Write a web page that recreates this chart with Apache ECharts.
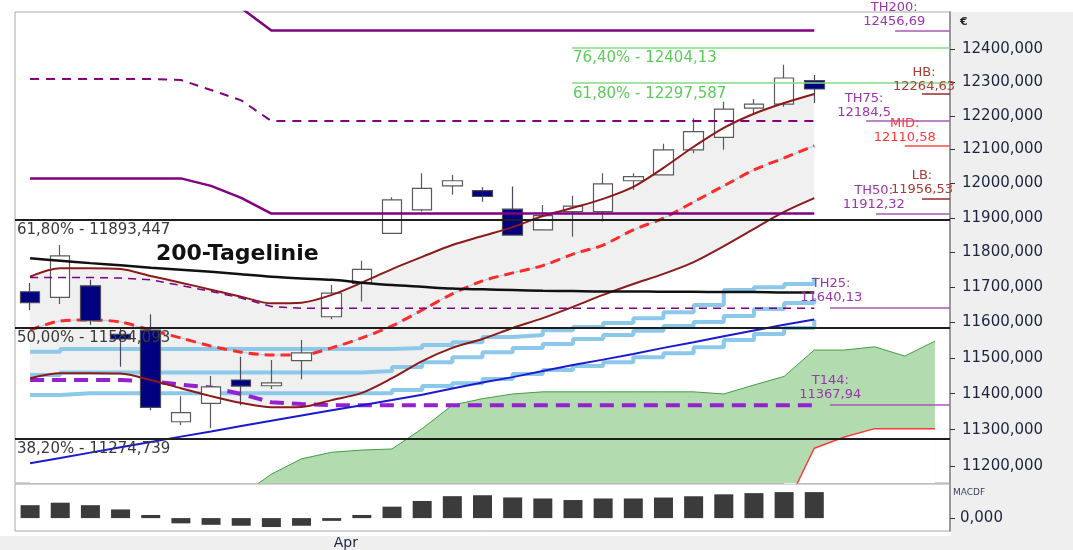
<!DOCTYPE html>
<html>
<head>
<meta charset="utf-8">
<title>Chart</title>
<script src="https://cdn.jsdelivr.net/npm/echarts@6/dist/echarts.min.js"></script>
<style>
  html, body { margin: 0; padding: 0; background: #fff; }
  #chart { width: 1073px; height: 550px; }
</style>
</head>
<body>
<div id="chart"></div>
<script>
// trading days (27 real + 4 projected for the cloud)
const days = ['18.03', '19.03', '20.03', '21.03', '24.03', '25.03', '26.03', '27.03', '28.03', '31.03',
    '01.04', '02.04', '03.04', '04.04', '07.04', '08.04', '09.04', '10.04', '11.04', '14.04', '15.04',
    '16.04', '17.04', '22.04', '23.04', '24.04', '25.04', '28.04', '29.04', '30.04', '02.05'];

// [open, close, low, high]
const candles = [
    [11687, 11656, 11635, 11712], [11671, 11790, 11652, 11821], [11704, 11605, 11593, 11721],
    [11566, 11553, 11475, 11587], [11578, 11362, 11354, 11623], [11322, 11347, 11313, 11393],
    [11373, 11419, 11304, 11449], [11438, 11421, 11368, 11503], [11422, 11430, 11413, 11494],
    [11492, 11514, 11440, 11550], [11616, 11683, 11609, 11706], [11711, 11751, 11659, 11776],
    [11855, 11952, 11855, 11960], [11923, 11986, 11918, 12030], [11993, 12008, 11967, 12025],
    [11979, 11962, 11947, 11989], [11925, 11850, 11850, 11991], [11865, 11906, 11865, 11937],
    [11918, 11934, 11845, 11964], [11918, 11999, 11889, 12030], [12008, 12020, 11981, 12030],
    [12025, 12099, 12025, 12117], [12099, 12153, 12089, 12193], [12136, 12220, 12099, 12242],
    [12223, 12235, 12206, 12250], [12235, 12313, 12227, 12353], [12305, 12280, 12238, 12322],
];

const upperBand = [11730, 11754, 11754, 11752, 11732, 11713, 11693, 11673, 11654, 11656, 11678, 11713, 11752,
    11787, 11821, 11847, 11873, 11905, 11929, 11955, 11990, 12046, 12108, 12164, 12206, 12238, 12265];
const midBand = [11578, 11604, 11607, 11601, 11578, 11556, 11533, 11516, 11508, 11508, 11528, 11556, 11590,
    11635, 11681, 11718, 11741, 11762, 11795, 11821, 11865, 11899, 11946, 11993, 12040, 12075, 12111];
const lowerBand = [11443, 11457, 11457, 11456, 11438, 11415, 11393, 11374, 11362, 11363, 11382, 11402, 11443,
    11491, 11528, 11553, 11584, 11612, 11644, 11678, 11709, 11738, 11772, 11818, 11868, 11917, 11957];

const line200 = [11783, 11776, 11769, 11763, 11756, 11750, 11744, 11737, 11730, 11725, 11721, 11713, 11706,
    11701, 11696, 11694, 11692, 11690, 11689, 11688, 11688, 11687, 11687, 11686, 11686, 11685, 11685];

const th200 = [12600, 12600, 12600, 12600, 12600, 12600, 12600, 12525, 12456.69, 12456.69, 12456.69, 12456.69,
    12456.69, 12456.69, 12456.69, 12456.69, 12456.69, 12456.69, 12456.69, 12456.69, 12456.69, 12456.69,
    12456.69, 12456.69, 12456.69, 12456.69, 12456.69];
const th75 = [12310, 12310, 12310, 12310, 12310, 12307, 12277, 12246, 12184.5, 12184.5, 12184.5, 12184.5,
    12184.5, 12184.5, 12184.5, 12184.5, 12184.5, 12184.5, 12184.5, 12184.5, 12184.5, 12184.5, 12184.5,
    12184.5, 12184.5, 12184.5, 12184.5];
const th50 = [12015, 12015, 12015, 12015, 12015, 12015, 11993, 11958, 11912.32, 11912.32, 11912.32, 11912.32,
    11912.32, 11912.32, 11912.32, 11912.32, 11912.32, 11912.32, 11912.32, 11912.32, 11912.32, 11912.32,
    11912.32, 11912.32, 11912.32, 11912.32, 11912.32];
const th25 = [11728, 11728, 11728, 11726, 11721, 11705, 11688, 11669, 11645, 11640.13, 11640.13, 11640.13,
    11640.13, 11640.13, 11640.13, 11640.13, 11640.13, 11640.13, 11640.13, 11640.13, 11640.13, 11640.13,
    11640.13, 11640.13, 11640.13, 11640.13, 11640.13];
const t144 = [11438, 11438, 11438, 11438, 11435, 11425, 11417, 11399, 11376, 11371, 11367.94, 11367.94,
    11367.94, 11367.94, 11367.94, 11367.94, 11367.94, 11367.94, 11367.94, 11367.94, 11367.94, 11367.94,
    11367.94, 11367.94, 11367.94, 11367.94, 11367.94];

const stepTop = [11517, 11525, 11525, 11525, 11525, 11525, 11525, 11525, 11525, 11525, 11525, 11525, 11528,
    11536, 11544, 11559, 11564, 11578, 11587, 11598, 11612, 11629, 11649, 11692, 11700, 11709, 11728];
const stepMid = [11452, 11459, 11459, 11459, 11459, 11459, 11459, 11459, 11459, 11459, 11459, 11463, 11474,
    11488, 11502, 11516, 11528, 11539, 11553, 11564, 11576, 11590, 11601, 11618, 11638, 11655, 11669];
const stepLow = [11396, 11401, 11401, 11401, 11401, 11401, 11401, 11401, 11401, 11401, 11401, 11401, 11410,
    11421, 11429, 11441, 11455, 11466, 11477, 11488, 11502, 11513, 11530, 11550, 11567, 11584, 11607];

const trendLine = [11208, 11222, 11237, 11252, 11266, 11281, 11295, 11310, 11325, 11339, 11354, 11368, 11382,
    11397, 11414, 11431, 11446, 11463, 11480, 11495, 11511, 11528, 11544, 11561, 11577, 11593, 11608];

const cloudTop = [null, null, null, null, null, null, null, 11120, 11178, 11220, 11238, 11244, 11247, 11303,
    11368, 11386, 11399, 11405, 11405, 11405, 11405, 11405, 11405, 11399, 11424, 11448, 11522, 11522, 11531,
    11505, 11547];
const cloudBottom = [null, null, null, null, null, null, null, null, null, null, null, null, null, null, null,
    null, null, null, null, null, null, null, null, null, null, 11080, 11249, 11280, 11303, 11303, 11303];

const macd = [14, 16.7, 14, 9.4, 3.4, -5.7, -7.3, -8.3, -9.7, -8.3, -3, 3.4, 12.4, 18.6, 23.8, 24.8, 22.4,
    21.3, 19.6, 21.3, 21.3, 22.3, 23.7, 25.8, 27.1, 28.2, 28.2];

const fibNames = ['61,80%', '50,00%', '38,20%'];
const fibLevels = [11893.447, 11584.093, 11274.739];
const fibGreenNames = ['76,40%', '61,80%'];
const fibGreenLevels = [12404.13, 12297.587];

const tagNames = ['TH200', 'HB', 'TH75', 'MID', 'LB', 'TH50', 'TH25', 'T144'];
const tagValues = [12456.69, 12264.63, 12184.5, 12110.58, 11956.53, 11912.32, 11640.13, 11367.94];

const yTicks = [11200, 11300, 11400, 11500, 11600, 11700, 11800, 11900, 12000, 12100, 12200, 12300, 12400];

const FONT = 'DejaVu Sans';
const PURPLE = '#9a36ac';
const comma = (v) => String(v).replace('.', ',');

// where each right-hand tag sits (x in bar units) and how it looks
const tagLayout = [
    { from: 28.68, at: 28.65, dist: 2, text: PURPLE, line: '#a65ab8' },
    { from: 29.57, at: 29.64, dist: 1, text: '#a83c34', line: '#962828' },
    { from: 27.72, at: 27.65, dist: 1, text: PURPLE, line: '#a65ab8' },
    { from: 29.0, at: 29.0, dist: 1, text: '#ff3838', line: '#ff4848' },
    { from: 29.57, at: 29.57, dist: 2, text: '#a83c34', line: '#962828' },
    { from: 28.05, at: 27.97, dist: 2, text: PURPLE, line: '#a65ab8' },
    { from: 26.52, at: 26.56, dist: 4, text: PURPLE, line: '#a65ab8' },
    { from: 26.52, at: 26.53, dist: 4, text: PURPLE, line: '#a65ab8' },
];

const chart = echarts.init(document.getElementById('chart'));

const levelLines = [];
fibLevels.forEach((v, i) => {
    levelLines.push({
        yAxis: v,
        lineStyle: { color: '#1e1e1e', width: 2, type: 'solid' },
        label: {
            show: true,
            position: 'insideStartBottom',
            formatter: `${fibNames[i]} - ${comma(v)}`,
            color: '#3a3a3a',
            fontSize: 15,
            fontFamily: FONT,
            distance: [2, 3],
        },
    });
});
fibGreenLevels.forEach((v, i) => {
    levelLines.push([
        {
            coord: [17.97, v],
            lineStyle: { color: '#80de80', width: 1.5, type: 'solid' },
            label: {
                show: true,
                position: 'insideStartBottom',
                formatter: `${fibGreenNames[i]} - ${comma(v)}`,
                color: '#5ccb5c',
                fontSize: 15,
                fontFamily: FONT,
                distance: [1, 3],
            },
        },
        { coord: [30.5, v] },
    ]);
});
tagValues.forEach((v, i) => {
    levelLines.push([
        { coord: [tagLayout[i].from, v], lineStyle: { color: tagLayout[i].line, width: 1.5, type: 'solid' }, label: { show: false } },
        { coord: [30.5, v] },
    ]);
});

const tagPoints = tagValues.map((v, i) => ({
    coord: [tagLayout[i].at, v],
    label: {
        formatter: `${tagNames[i]}:\n${comma(v)}`,
        color: tagLayout[i].text,
        distance: tagLayout[i].dist,
    },
}));
tagPoints.push({
    coord: [6.87, 11795],
    label: { position: 'inside', formatter: '200-Tagelinie', color: '#111', fontSize: 22, fontWeight: 'bold' },
});

const plainLine = (data, color, width, extra) => Object.assign({
    type: 'line',
    xAxisIndex: 0,
    yAxisIndex: 0,
    data,
    symbol: 'none',
    silent: true,
    lineStyle: { color, width },
    z: 2,
}, extra || {});

const option = {
    animation: false,
    backgroundColor: '#ffffff',
    textStyle: { fontFamily: FONT },
    graphic: [
        { type: 'rect', z: -10, shape: { x: 951, y: 12, width: 122, height: 538 }, style: { fill: '#efefef' } },
        { type: 'rect', z: -10, shape: { x: 0, y: 536, width: 951, height: 14 }, style: { fill: '#efefef' } },
    ],
    grid: [
        { left: 15, top: 12, width: 935, height: 471, show: true, borderColor: '#a8a8a8', borderWidth: 1, backgroundColor: '#fff' },
        { left: 15, top: 484, width: 935, height: 51, show: true, borderColor: '#a8a8a8', borderWidth: 1, backgroundColor: '#fff' },
    ],
    xAxis: [
        { type: 'category', gridIndex: 0, data: days, boundaryGap: true, show: false },
        {
            type: 'category',
            gridIndex: 1,
            data: days,
            boundaryGap: true,
            axisLine: { show: false },
            axisTick: {
                alignWithLabel: true,
                length: 4,
                interval: (idx, val) => val === '01.04',
                lineStyle: { color: '#333' },
            },
            axisLabel: {
                interval: (idx, val) => val === '01.04',
                formatter: () => 'Apr',
                align: 'left',
                padding: [0, 0, 0, 2],
                margin: 5,
                color: '#1c2540',
                fontSize: 14,
                fontFamily: FONT,
            },
        },
        { type: 'value', gridIndex: 0, min: -0.5, max: 30.5, show: false },
    ],
    yAxis: [
        {
            type: 'log',
            logBase: 10,
            gridIndex: 0,
            position: 'right',
            min: 11154,
            max: 12513,
            splitLine: { show: false },
            minorTick: { show: false },
            axisLine: { show: true, onZero: false, lineStyle: { color: '#9a9a9a', width: 2 } },
            axisTick: { show: true, length: 5, customValues: yTicks, lineStyle: { color: '#333' } },
            axisLabel: {
                customValues: yTicks,
                formatter: (v) => Math.round(v).toFixed(3).replace('.', ','),
                color: '#1c2540',
                fontSize: 15,
                fontFamily: FONT,
                margin: 12,
            },
            name: '€',
            nameLocation: 'end',
            nameGap: -10,
            nameTextStyle: { align: 'left', verticalAlign: 'middle', padding: [0, 0, 0, 10], fontSize: 11, fontWeight: 'bold', color: '#222' },
        },
        {
            type: 'value',
            gridIndex: 1,
            position: 'right',
            min: -14,
            max: 37,
            splitLine: { show: false },
            axisLine: { show: true, onZero: false, lineStyle: { color: '#9a9a9a', width: 2 } },
            axisTick: { show: true, length: 5, customValues: [0], lineStyle: { color: '#333' } },
            axisLabel: {
                customValues: [0],
                formatter: () => '0,000',
                color: '#1c2540',
                fontSize: 15,
                fontFamily: FONT,
                margin: 10,
            },
            name: 'MACDF',
            nameLocation: 'end',
            nameGap: -9,
            nameTextStyle: { align: 'left', verticalAlign: 'middle', padding: [0, 0, 0, 3], fontSize: 9, color: '#3a4460' },
        },
    ],
    series: [
        // light grey band between upper and lower Bollinger line
        plainLine(upperBand, '#f0f0f0', 0, { smooth: 0.3, areaStyle: { color: '#f0f0f0', opacity: 1, origin: 'start' }, z: 1 }),
        plainLine(lowerBand, '#ffffff', 0, { smooth: 0.3, areaStyle: { color: '#ffffff', opacity: 1, origin: 'start' }, z: 1 }),
        // cloud
        plainLine(cloudTop, '#3f9f3f', 1, { areaStyle: { color: '#b3dbb0', opacity: 1, origin: 'start' }, z: 1 }),
        plainLine(cloudBottom, '#ff3b3b', 1.5, { areaStyle: { color: '#ffffff', opacity: 1, origin: 'start' }, z: 1 }),
        // step channels
        plainLine(stepTop, '#8cc8ea', 4, { step: 'end' }),
        plainLine(stepMid, '#8cc8ea', 4, { step: 'end' }),
        plainLine(stepLow, '#8cc8ea', 4, { step: 'end' }),
        plainLine(t144, '#9420d0', 4, { lineStyle: { color: '#9420d0', width: 4, type: [14, 8] } }),
        plainLine(trendLine, '#1a1ad0', 2),
        plainLine(midBand, '#9fd3ef', 1, { smooth: 0.3 }),
        plainLine(midBand, '#ff2a2a', 3, { smooth: 0.3, lineStyle: { color: '#ff2a2a', width: 3, type: [10, 6] } }),
        {
            type: 'candlestick',
            xAxisIndex: 0,
            yAxisIndex: 0,
            data: candles,
            barWidth: 20,
            silent: true,
            z: 3,
            itemStyle: {
                color: '#ffffff',
                color0: '#000080',
                borderColor: '#5a5a5a',
                borderColor0: '#4a4a5a',
                borderWidth: 1.2,
            },
        },
        plainLine(upperBand, '#8b1a1a', 2, { smooth: 0.3, z: 4 }),
        plainLine(lowerBand, '#8b1a1a', 2, { smooth: 0.3, z: 4 }),
        plainLine(line200, '#111111', 2.5, { smooth: 0.3, z: 4 }),
        plainLine(th200, '#800080', 2.5, { z: 4 }),
        plainLine(th75, '#800080', 2, { z: 4, lineStyle: { color: '#800080', width: 2, type: [9, 7] } }),
        plainLine(th50, '#800080', 2.5, { z: 4 }),
        plainLine(th25, '#800080', 1.5, { z: 4, lineStyle: { color: '#800080', width: 1.5, type: [8, 6] } }),
        {
            name: 'levels',
            type: 'line',
            xAxisIndex: 2,
            yAxisIndex: 0,
            data: [],
            silent: true,
            markLine: {
                silent: true,
                symbol: ['none', 'none'],
                animation: false,
                data: levelLines,
            },
            markPoint: {
                silent: true,
                symbol: 'circle',
                symbolSize: 0,
                animation: false,
                label: { show: true, position: 'top', fontSize: 13, lineHeight: 14, fontFamily: FONT },
                data: tagPoints,
            },
        },
        {
            type: 'bar',
            xAxisIndex: 1,
            yAxisIndex: 1,
            data: macd,
            barWidth: 19,
            silent: true,
            itemStyle: { color: '#3b3b3b' },
        },
    ],
};

chart.setOption(option);
</script>
</body>
</html>
